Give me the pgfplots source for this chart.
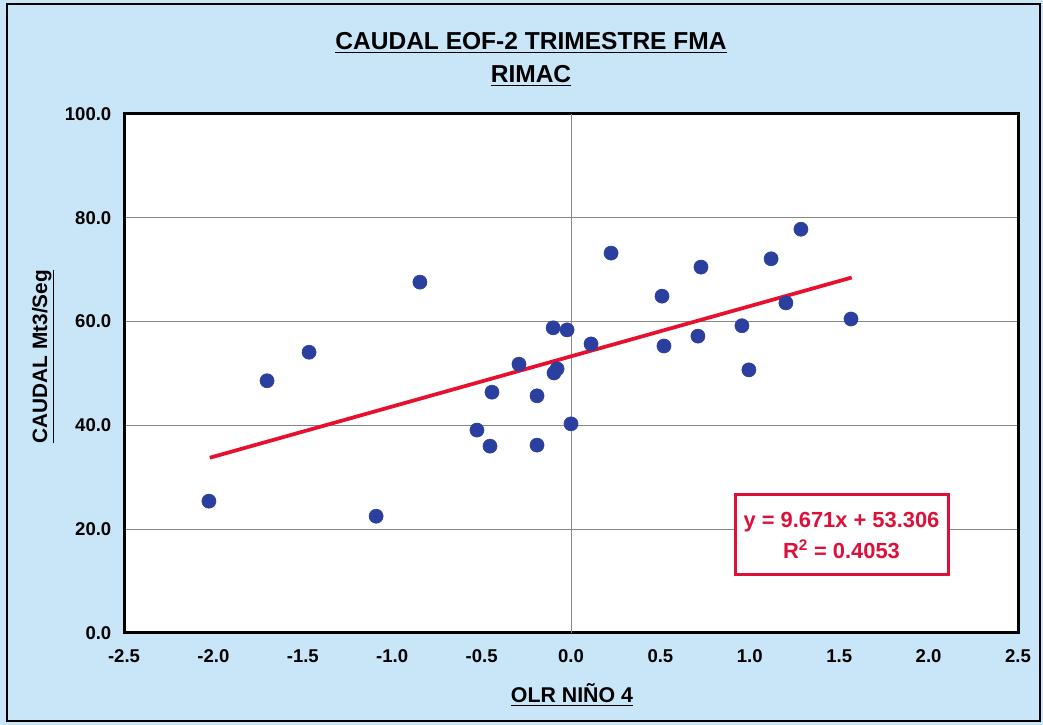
\documentclass[border=0pt]{standalone}
\usepackage{pgfplots}
\pgfplotsset{compat=1.18}
\usepackage{fontspec}
\setmainfont{Liberation Sans}
\definecolor{bgblue}{RGB}{200,230,247}
\definecolor{dotblue}{RGB}{43,63,158}
\definecolor{trendred}{RGB}{232,16,47}
\definecolor{boxred}{RGB}{222,16,58}
\definecolor{gridgray}{RGB}{135,135,135}
\begin{document}
\begin{tikzpicture}[x=0.75pt,y=0.75pt]
\fill[bgblue] (0,0) rectangle (1043,725);
\draw[black,line width=1.5pt] (7,4) rectangle (1040,721);
\begin{axis}[
  at={(93pt,69pt)}, anchor=south west,
  scale only axis, width=670.5pt, height=389.25pt,
  xmin=-2.5, xmax=2.5, ymin=0, ymax=100,
  xtick={-2.5,-2,...,2.5}, ytick={0,20,...,100},
  axis background/.style={fill=white},
  axis line style={black,line width=2.25pt},
  ymajorgrids, grid style={gridgray,line width=0.75pt},
  major tick length=0pt,
  tick label style={font=\fontsize{13.9}{16}\selectfont\bfseries},
  /pgf/number format/assume math mode=true,
  xticklabel style={yshift=-9pt},
  yticklabel style={xshift=-6pt},
  xticklabel={\pgfmathprintnumber[fixed,fixed zerofill,precision=1]{\tick}},
  yticklabel={\pgfmathprintnumber[fixed,fixed zerofill,precision=1]{\tick}},
  clip=false,
]
\addplot[gridgray,line width=0.75pt] coordinates {(0,0) (0,100)};
\addplot[only marks, mark=*, mark size=5.3pt, mark options={fill=dotblue,draw=dotblue}] coordinates {
(-2.025,25.4) (-1.70,48.6) (-1.465,54.1) (-1.09,22.5) (-0.845,67.6)
(-0.526,39.1) (-0.453,36.0) (-0.442,46.4) (-0.291,51.8) (-0.19,45.7)
(-0.19,36.2) (-0.10,58.8) (-0.022,58.4) (-0.095,50.1) (-0.078,50.9)
(0.0,40.3) (0.112,55.7) (0.224,73.2) (0.509,64.9) (0.52,55.3)
(0.727,70.5) (0.71,57.2) (0.956,59.2) (0.995,50.7) (1.119,72.1)
(1.202,63.6) (1.286,77.8) (1.566,60.5)
};
\addplot[trendred, line width=2.8pt] coordinates {(-2.02,33.77) (1.57,68.49)};
\end{axis}
\node[anchor=base, font=\fontsize{18.4}{22}\selectfont\bfseries] at (531,675) {\underline{CAUDAL EOF-2 TRIMESTRE FMA}};
\node[anchor=base, font=\fontsize{18.4}{22}\selectfont\bfseries] at (531,642) {\underline{RIMAC}};
\node[anchor=base, rotate=90, font=\fontsize{15.6}{18}\selectfont\bfseries] at (47,368.5) {\underline{CAUDAL Mt3/Seg}};
\node[anchor=base, font=\fontsize{16}{19}\selectfont\bfseries] at (572,22) {\underline{OLR NIÑO 4}};
\fill[white] (735,150) rectangle (948,230);
\draw[boxred, line width=2.25pt] (735,150) rectangle (948,230);
\node[anchor=base, text=boxred, font=\fontsize{16.4}{19}\selectfont\bfseries] at (841.5,197) {y = 9.671x + 53.306};
\node[anchor=base, text=boxred, font=\fontsize{16.4}{19}\selectfont\bfseries] at (841.5,166) {R$^{\mathbf{2}}$ = 0.4053};
\end{tikzpicture}
\end{document}
